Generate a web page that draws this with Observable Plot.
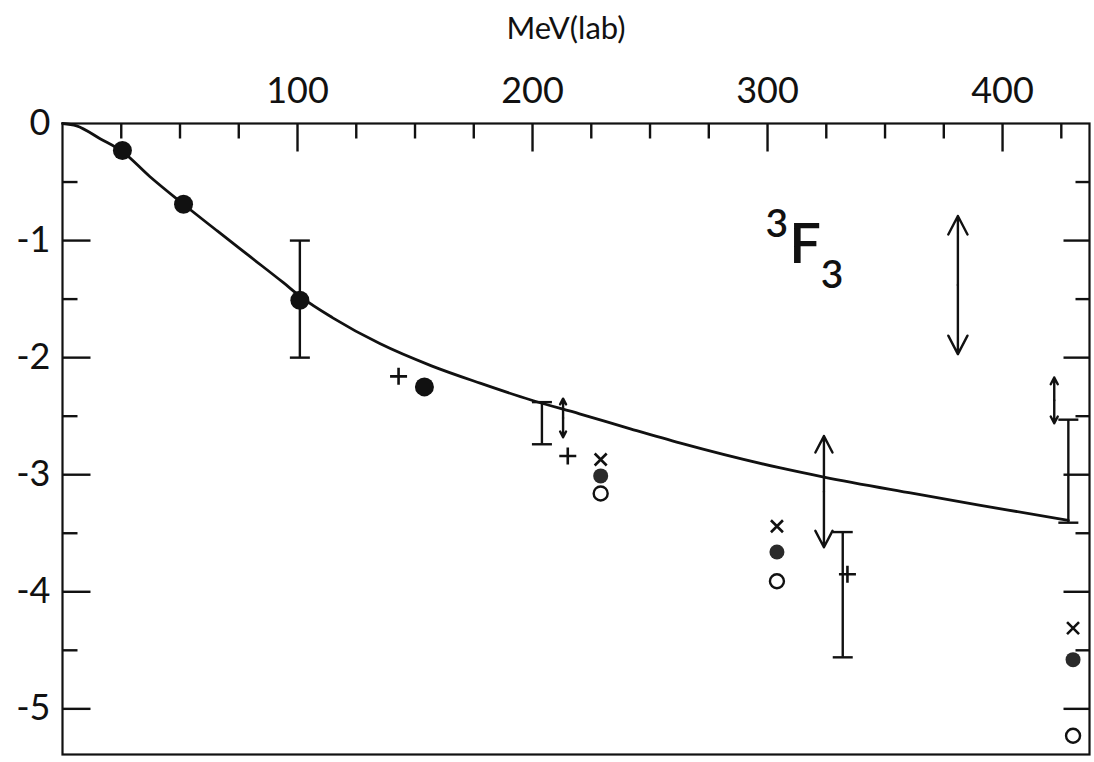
<!DOCTYPE html>
<html><head><meta charset="utf-8">
<script src="https://cdn.jsdelivr.net/npm/d3@7"></script>
<script src="https://cdn.jsdelivr.net/npm/@observablehq/plot@0.6"></script>
<style>body{margin:0;background:#fff;} svg{display:block;}</style>
</head><body><div id="chart"></div>
<script>
// Smooth theoretical curve (MeV lab, phase shift in degrees)
const curveE = [0, 6, 16, 25.5, 37, 51.5, 66, 80, 94, 102, 115, 135, 157, 178, 199, 220, 242, 263, 305, 324, 362, 390, 428];
const curveV = [0, -0.02, -0.13, -0.24, -0.45, -0.69, -0.92, -1.14, -1.36, -1.49, -1.66, -1.88, -2.07, -2.22, -2.36, -2.48, -2.61, -2.73, -2.94, -3.02, -3.16, -3.26, -3.39];

// Large filled dots (on/near curve)
const bigDotE = [25.5, 51.5, 101, 154];
const bigDotV = [-0.23, -0.69, -1.51, -2.25];
// Smaller filled dots
const smallDotE = [229, 304, 430];
const smallDotV = [-3.01, -3.66, -4.58];
// Crosses (x)
const crossE = [229, 304, 430];
const crossV = [-2.87, -3.44, -4.31];
// Open circles
const circE = [229, 304, 430];
const circV = [-3.16, -3.91, -5.23];
// Plus signs
const plusE = [143, 215, 334];
const plusV = [-2.16, -2.84, -3.85];
// Error bars
const errE = [101, 204, 332, 428];
const errLo = [-2.0, -2.74, -4.56, -3.41];
const errHi = [-1.0, -2.38, -3.49, -2.53];
// Double-headed arrows (ranges)
const arrE = [213, 324, 381, 422];
const arrLo = [-2.68, -3.62, -1.97, -2.56];
const arrHi = [-2.35, -2.67, -0.79, -2.17];

// Axis ticks
const xTickMinor = [25, 50, 75, 125, 150, 175, 225, 250, 275, 325, 350, 375, 425];
const xTickMajor = [100, 200, 300, 400];
const xTickLabels = ["100", "200", "300", "400"];
const yTickMajor = [-1, -2, -3, -4, -5];
const yTickMinor = [-0.5, -1.5, -2.5, -3.5, -4.5];
const yTickValues = [0, -1, -2, -3, -4, -5];
const yTickLabels = ["0", "-1", "-2", "-3", "-4", "-5"];

const curve = curveE.map((e, i) => ({e, v: curveV[i]}));
const rows = (E, V) => E.map((e, i) => ({e, v: V[i]}));
const errs = errE.map((e, i) => ({e, lo: errLo[i], hi: errHi[i]}));
const arrs = arrE.map((e, i) => ({e, lo: arrLo[i], hi: arrHi[i], mid: (arrLo[i] + arrHi[i]) / 2}));

const hbar = w => ({draw(ctx){ ctx.moveTo(-w, 0); ctx.lineTo(w, 0); }});
const vtick = len => ({draw(ctx){ ctx.moveTo(0, 0); ctx.lineTo(0, len); }});
const htick = len => ({draw(ctx){ ctx.moveTo(0, 0); ctx.lineTo(len, 0); }});
const plusSym = h => ({draw(ctx){ ctx.moveTo(-h, 0); ctx.lineTo(h, 0); ctx.moveTo(0, -h); ctx.lineTo(0, h); }});
const timesSym = h => ({draw(ctx){ ctx.moveTo(-h, -h); ctx.lineTo(h, h); ctx.moveTo(-h, h); ctx.lineTo(h, -h); }});

const FONT = "Lato, 'DejaVu Sans', sans-serif";

const chart = Plot.plot({
  width: 1094,
  height: 762,
  marginLeft: 62,
  marginRight: 5,
  marginTop: 123,
  marginBottom: 8,
  style: {fontFamily: FONT, background: "#fff", color: "#111"},
  x: {domain: [0, 437], axis: null},
  y: {domain: [-5.39, 0], axis: null},
  marks: [
    Plot.frame({stroke: "#111", strokeWidth: 2.2}),
    // top ticks (inward)
    Plot.dot(xTickMinor, {x: d => d, frameAnchor: "top", symbol: vtick(15), stroke: "#111", strokeWidth: 2.4, fill: "none"}),
    Plot.dot(xTickMajor, {x: d => d, frameAnchor: "top", symbol: vtick(28), stroke: "#111", strokeWidth: 2.4, fill: "none"}),
    // left ticks
    Plot.dot(yTickMajor, {y: d => d, frameAnchor: "left", symbol: htick(28), stroke: "#111", strokeWidth: 2.4, fill: "none"}),
    Plot.dot(yTickMinor, {y: d => d, frameAnchor: "left", symbol: htick(15), stroke: "#111", strokeWidth: 2.4, fill: "none"}),
    // right ticks
    Plot.dot(yTickMajor, {y: d => d, frameAnchor: "right", symbol: htick(-26), stroke: "#111", strokeWidth: 2.4, fill: "none"}),
    Plot.dot(yTickMinor, {y: d => d, frameAnchor: "right", symbol: htick(-14), stroke: "#111", strokeWidth: 2.4, fill: "none"}),
    // tick labels
    Plot.text(xTickMajor, {x: d => d, frameAnchor: "top", dy: -32, text: (d, i) => xTickLabels[i], fontSize: 36, lineAnchor: "middle", fill: "#111"}),
    Plot.text(yTickValues, {y: d => d, frameAnchor: "left", dx: -12, text: (d, i) => yTickLabels[i], fontSize: 36, textAnchor: "end", lineAnchor: "middle", fill: "#111"}),
    Plot.text(["MeV(lab)"], {frameAnchor: "top", dx: -10, dy: -94, text: d => d, fontSize: 31, lineAnchor: "middle", fill: "#111"}),
    // curve
    Plot.line(curve, {x: "e", y: "v", curve: "monotone-x", stroke: "#111", strokeWidth: 2.8}),
    // error bars
    Plot.ruleX(errs, {x: "e", y1: "lo", y2: "hi", stroke: "#111", strokeWidth: 2.4}),
    Plot.dot(errs, {x: "e", y: "lo", symbol: hbar(10), stroke: "#111", strokeWidth: 2.4, fill: "none"}),
    Plot.dot(errs, {x: "e", y: "hi", symbol: hbar(10), stroke: "#111", strokeWidth: 2.4, fill: "none"}),
    // double arrows
    Plot.arrow(arrs, {x1: "e", x2: "e", y1: "mid", y2: "hi", stroke: "#111", strokeWidth: 2.4, headLength: 13, headAngle: 55}),
    Plot.arrow(arrs, {x1: "e", x2: "e", y1: "mid", y2: "lo", stroke: "#111", strokeWidth: 2.4, headLength: 13, headAngle: 55}),
    // markers
    Plot.dot(rows(plusE, plusV), {x: "e", y: "v", symbol: plusSym(8.5), stroke: "#111", strokeWidth: 2.6, fill: "none"}),
    Plot.dot(rows(crossE, crossV), {x: "e", y: "v", symbol: timesSym(6), stroke: "#111", strokeWidth: 2.6, fill: "none"}),
    Plot.dot(rows(circE, circV), {x: "e", y: "v", r: 7, stroke: "#111", strokeWidth: 2.4, fill: "#fff"}),
    Plot.dot(rows(smallDotE, smallDotV), {x: "e", y: "v", r: 7.5, fill: "#2a2a2a", stroke: "none"}),
    Plot.dot(rows(bigDotE, bigDotV), {x: "e", y: "v", r: 9.5, fill: "#111", stroke: "none"}),
    // 3F3 label
    Plot.text(["3"], {x: () => 304, y: () => -0.86, text: d => d, fontSize: 39, fontWeight: 600, lineAnchor: "middle", fill: "#111"}),
    Plot.text(["F"], {x: () => 316, y: () => -1.04, text: d => d, fontSize: 56, fontWeight: 600, lineAnchor: "middle", fill: "#111"}),
    Plot.text(["3"], {x: () => 327.5, y: () => -1.3, text: d => d, fontSize: 39, fontWeight: 600, lineAnchor: "middle", fill: "#111"})
  ]
});
document.getElementById("chart").appendChild(chart);
</script>
</body></html>
